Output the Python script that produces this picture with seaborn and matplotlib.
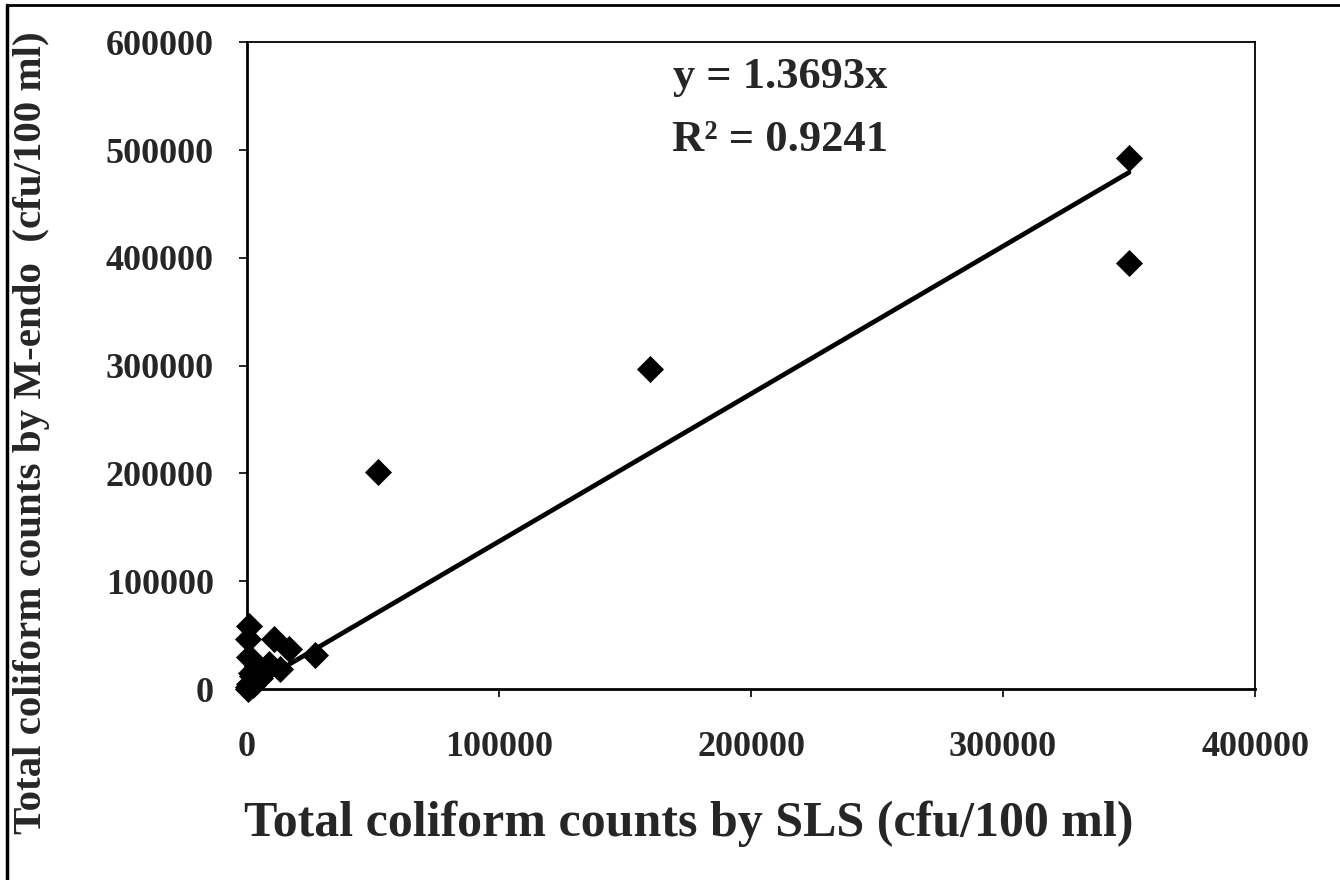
import matplotlib
matplotlib.use("Agg")
import matplotlib.pyplot as plt
from matplotlib.lines import Line2D
import seaborn as sns
import pandas as pd

# Total coliform counts (cfu/100 ml) measured by the two methods
sls_counts = [350000, 350000, 160000, 52000, 27000,
              700, 500, 10600, 16600, 13000, 8600, 4000,
              800, 2000, 1000, 500, 3000, 5000, 1500, 6000, 300, 2500]
mendo_counts = [493000, 395000, 297000, 201000, 32000,
                58600, 46000, 46000, 37000, 18500, 23000, 21000,
                30000, 12000, 5000, 2000, 8000, 10000, 15000, 14000, 500, 3500]

slope = 1.3693
r_squared = 0.9241
fit_x = [0, 350000]

x_ticks = [0, 100000, 200000, 300000, 400000]
y_ticks = [0, 100000, 200000, 300000, 400000, 500000, 600000]

df = pd.DataFrame({"sls": sls_counts, "mendo": mendo_counts})
fit = pd.DataFrame({"x": fit_x, "y": [slope * v for v in fit_x]})

sns.set_theme(style="white")
plt.rcParams["font.family"] = ["Liberation Serif", "DejaVu Serif"]
plt.rcParams["font.weight"] = "bold"

fig = plt.figure(figsize=(13.4, 8.8), dpi=100)
ax = fig.add_axes([0.1843, 0.217, 0.9366 - 0.1843, 0.952 - 0.217])

sns.lineplot(data=fit, x="x", y="y", ax=ax, color="black", linewidth=3.4, zorder=2)
sns.scatterplot(data=df, x="sls", y="mendo", ax=ax, marker="D", s=190,
                color="black", edgecolor="black", linewidth=0, zorder=3,
                clip_on=False)

ax.set_xlim(0, 400000)
ax.set_ylim(0, 600000)
ax.set_xticks(x_ticks)
ax.set_yticks(y_ticks)
ax.set_xticklabels([str(v) for v in x_ticks])
ax.set_yticklabels([str(v) for v in y_ticks])
ax.tick_params(axis="both", which="major", direction="out", length=6, width=1.2,
               color="black", labelsize=26, bottom=True, left=True)
ax.tick_params(axis="x", pad=24)
ax.tick_params(axis="y", pad=18)
for lab in ax.get_xticklabels() + ax.get_yticklabels():
    lab.set_fontweight("bold")

for side, spine in ax.spines.items():
    spine.set_visible(True)
    spine.set_color("black")
    spine.set_linewidth(2.0 if side in ("left", "bottom") else 1.3)

ax.set_xlabel("Total coliform counts by SLS (cfu/100 ml)", fontsize=36,
              fontweight="bold")
ax.xaxis.set_label_coords(0.438, -0.172)
ax.set_ylabel("Total coliform counts by M-endo  (cfu/100 ml)", fontsize=29.5,
              fontweight="bold")
ax.yaxis.set_label_coords(-0.195, 0.397)

ax.text(0.529, 0.946, f"y = {slope}x", transform=ax.transAxes, ha="center",
        va="center", fontsize=32, fontweight="bold")
ax.text(0.529, 0.849, f"R\u00b2 = {r_squared}", transform=ax.transAxes,
        ha="center", va="center", fontsize=32, fontweight="bold")

# Outer frame along the left and top edges of the figure
fig.add_artist(Line2D([0.005, 0.005], [0.0, 0.994], transform=fig.transFigure,
                      color="black", linewidth=2.5))
fig.add_artist(Line2D([0.005, 1.0], [0.994, 0.994], transform=fig.transFigure,
                      color="black", linewidth=2.0))

fig.savefig("out.png", dpi=100, facecolor="white")
